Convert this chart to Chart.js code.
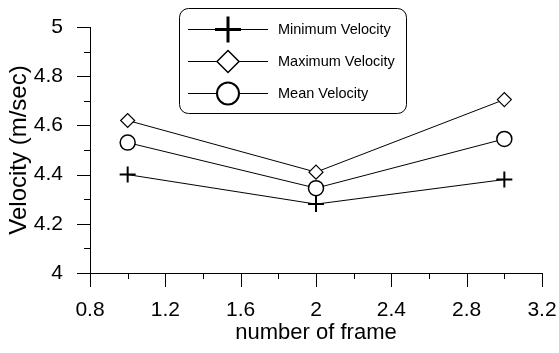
<!DOCTYPE html>
<html>
<head>
<meta charset="utf-8">
<script src="https://cdn.jsdelivr.net/npm/chart.js@4"></script>
<style>
  html, body { margin: 0; padding: 0; background: #fff; }
  #wrap { width: 559px; height: 353px; }
</style>
</head>
<body>
<div id="wrap"><canvas id="velChart" width="559" height="353"></canvas></div>
<script>
// data
const frames = [1, 2, 3];
const minVel = [4.40, 4.28, 4.38];
const maxVel = [4.62, 4.41, 4.705];
const meanVel = [4.53, 4.345, 4.545];
const seriesNames = ['Minimum Velocity', 'Maximum Velocity', 'Mean Velocity'];

const xMin = 0.8, xMax = 3.2, xStep = 0.4;
const yMin = 4, yMax = 5, yStep = 0.2;

const font = "'Liberation Sans', Arial, sans-serif";

function pts(ys) {
  return frames.map((f, i) => ({ x: f, y: ys[i] }));
}

// marker look per series (plot / legend)
const markers = [
  { style: 'cross', r: 8, lr: 13, bw: 2, lbw: 3 },
  { style: 'rectRot', r: 7, lr: 11, bw: 1.2, lbw: 1.5 },
  { style: 'circle', r: 7.5, lr: 11, bw: 1.5, lbw: 2 }
];

// major ticks + minor ticks halfway between, drawn on the library scales
const tickMarks = {
  id: 'tickMarks',
  afterDraw(chart) {
    const ctx = chart.ctx;
    const xs = chart.scales.x, ys = chart.scales.y;
    ctx.save();
    ctx.strokeStyle = '#000';
    ctx.lineWidth = 1;
    ctx.beginPath();
    const xt = xs.ticks.map(t => t.value);
    xt.forEach((v, i) => {
      const px = Math.round(xs.getPixelForValue(v)) + 0.5;
      ctx.moveTo(px, xs.top); ctx.lineTo(px, xs.top + 14);
      if (i < xt.length - 1) {
        const m = Math.round(xs.getPixelForValue((v + xt[i + 1]) / 2)) + 0.5;
        ctx.moveTo(m, xs.top); ctx.lineTo(m, xs.top + 6);
      }
    });
    const yt = ys.ticks.map(t => t.value);
    yt.forEach((v, i) => {
      const py = Math.round(ys.getPixelForValue(v)) + 0.5;
      ctx.moveTo(ys.right, py); ctx.lineTo(ys.right - 13, py);
      if (i < yt.length - 1) {
        const m = Math.round(ys.getPixelForValue((v + yt[i + 1]) / 2)) + 0.5;
        ctx.moveTo(ys.right, m); ctx.lineTo(ys.right - 6, m);
      }
    });
    ctx.stroke();
    ctx.restore();
  }
};

// boxed legend with big markers
const boxLegend = {
  id: 'boxLegend',
  afterDraw(chart) {
    const ctx = chart.ctx;
    ctx.save();
    ctx.strokeStyle = '#000';
    ctx.lineWidth = 1;
    ctx.beginPath();
    ctx.roundRect(179.5, 8.5, 227, 105, 9);
    ctx.stroke();
    const rows = [29, 61, 93];
    chart.data.datasets.forEach((ds, i) => {
      const y = rows[i];
      ctx.strokeStyle = '#000';
      ctx.lineWidth = 1;
      ctx.beginPath();
      ctx.moveTo(188, y + 0.5); ctx.lineTo(268, y + 0.5);
      ctx.stroke();
      const mk = markers[i];
      ctx.fillStyle = '#fff';
      ctx.lineWidth = mk.lbw;
      Chart.helpers.drawPoint(ctx, { pointStyle: mk.style, radius: mk.lr, borderWidth: mk.lbw, rotation: 0 }, 228, y + 0.5);
      ctx.fillStyle = '#000';
      ctx.font = '14.5px ' + font;
      ctx.textBaseline = 'middle';
      ctx.textAlign = 'left';
      ctx.fillText(ds.label, 278, y + 1);
    });
    ctx.restore();
  }
};

const fmt = v => String(+Number(v).toFixed(1));

new Chart(document.getElementById('velChart'), {
  type: 'line',
  data: {
    datasets: [minVel, maxVel, meanVel].map((ys, i) => ({
      label: seriesNames[i],
      data: pts(ys),
      borderColor: '#000',
      borderWidth: 1,
      pointStyle: markers[i].style,
      pointRadius: markers[i].r,
      pointBorderWidth: markers[i].bw,
      pointBackgroundColor: '#fff',
      pointBorderColor: '#000',
      tension: 0
    }))
  },
  options: {
    responsive: false,
    animation: false,
    layout: { padding: { left: 0, right: 17, top: 27, bottom: 0 } },
    plugins: { legend: { display: false }, tooltip: { enabled: false } },
    scales: {
      x: {
        type: 'linear',
        min: xMin, max: xMax,
        afterFit(s) { s.height = 80; s.paddingLeft = 0; s.paddingRight = 0; },
        ticks: { stepSize: xStep, color: '#000', font: { family: font, size: 21 }, padding: 17, callback: fmt, maxRotation: 0 },
        grid: { display: false },
        border: { display: true, color: '#000', width: 1 },
        title: { display: true, text: 'number of frame', color: '#000', font: { family: font, size: 22 }, padding: { top: 0, bottom: 7 } }
      },
      y: {
        type: 'linear',
        min: yMin, max: yMax,
        afterFit(s) { s.width = 90; s.paddingTop = 0; s.paddingBottom = 0; },
        ticks: { stepSize: yStep, color: '#000', font: { family: font, size: 21 }, padding: 19, callback: fmt },
        grid: { display: false },
        border: { display: true, color: '#000', width: 1 },
        title: { display: true, text: 'Velocity (m/sec)', color: '#000', font: { family: font, size: 24 }, padding: { top: 5, bottom: 0 } }
      }
    }
  },
  plugins: [tickMarks, boxLegend]
});
</script>
</body>
</html>
